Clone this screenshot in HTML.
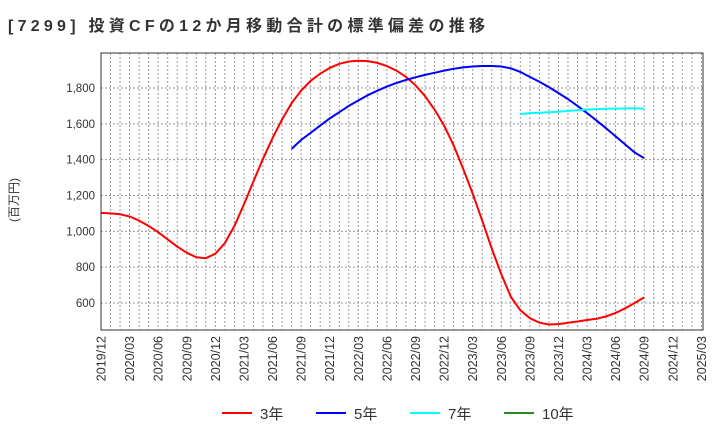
<!DOCTYPE html>
<html><head><meta charset="utf-8"><style>
body{margin:0;background:#fff;font-family:"Liberation Sans","Noto Sans CJK JP",sans-serif}
</style></head><body>
<svg id="c" width="720" height="440" xmlns="http://www.w3.org/2000/svg" style="font-family:'Liberation Sans','Noto Sans CJK JP',sans-serif">
<text x="8" y="31" font-size="16" font-weight="bold" fill="#333" textLength="477" lengthAdjust="spacing">[7299]  投資CFの12か月移動合計の標準偏差の推移</text>
<text transform="translate(18,200) rotate(-90)" font-size="12" fill="#333" text-anchor="middle">(百万円)</text>
<g id="grid"></g><g id="series"></g><g id="axes"></g>
<g id="legend"></g>
</svg>
<script>
const yTicks=[600,800,1000,1200,1400,1600,1800];
const xLabels=["2019/12","2020/03","2020/06","2020/09","2020/12","2021/03","2021/06","2021/09","2021/12","2022/03","2022/06","2022/09","2022/12","2023/03","2023/06","2023/09","2023/12","2024/03","2024/06","2024/09","2024/12","2025/03"];
const red=[1103,1100,1095,1083,1060,1030,995,955,915,880,855,850,875,935,1030,1150,1280,1405,1520,1625,1715,1785,1840,1880,1912,1935,1948,1952,1950,1940,1922,1897,1862,1815,1755,1680,1590,1480,1350,1210,1060,905,760,635,560,515,490,480,482,490,497,505,512,525,545,570,600,632];
const blue=[1460,1510,1550,1590,1630,1665,1700,1730,1760,1785,1808,1828,1845,1860,1873,1885,1897,1907,1915,1920,1923,1923,1920,1910,1890,1862,1835,1805,1772,1738,1700,1660,1618,1575,1530,1485,1440,1408];
const blueStart=20;
const cyan=[1655,1660,1662,1665,1668,1672,1676,1680,1682,1684,1685,1686,1686,1685];
const cyanStart=44;
const NS="http://www.w3.org/2000/svg";
const L=101,R=703,T=53,B=330,ppm=9.53;
const x=i=>L+i*ppm;
const y=v=>303-(v-600)*215/1200;
function mk(tag,attrs,parent){const e=document.createElementNS(NS,tag);for(const k in attrs)e.setAttribute(k,attrs[k]);document.getElementById(parent).appendChild(e);return e;}
for(let i=1;x(i)<R;i++){const g=mk('line',{x1:x(i),x2:x(i),y1:T,y2:B,stroke:'#999','stroke-dasharray':'2,2','stroke-width':1},'grid');

}
yTicks.forEach(v=>{const g=mk('line',{x1:L,x2:R,y1:y(v),y2:y(v),stroke:'#999','stroke-dasharray':'2,2'},'grid');


const t=mk('text',{x:L-6,y:y(v)+4,'text-anchor':'end','font-size':11.5,fill:'#333'},'axes');t.textContent=v.toLocaleString('en-US');

});
xLabels.forEach((s,k)=>{const xx=x(k*3);const t=mk('text',{transform:`translate(${xx+4.5},${B+6}) rotate(-90)`,'text-anchor':'end','font-size':12.5,fill:'#333'},'axes');t.textContent=s;

});
const fr=mk('rect',{x:L,y:T,width:R-L,height:B-T,fill:'none',stroke:'#333','stroke-width':1},'axes');


function line(arr,start,color,name){const p=arr.map((v,i)=>x(start+i).toFixed(1)+','+y(v).toFixed(1)).join(' ');
const e=mk('polyline',{points:p,fill:'none',stroke:color,'stroke-width':2},'series');

}
line(red,0,'#f00','series-3y');line(blue,blueStart,'#00f','series-5y');line(cyan,cyanStart,'#0ff','series-7y');
const leg=[["3年","#f00",222],["5年","#00f",316],["7年","#0ff",410],["10年","#228b22",504]];
leg.forEach(([s,c,lx])=>{const l=mk('line',{x1:lx,x2:lx+30,y1:413,y2:413,stroke:c,'stroke-width':2},'legend');


const t=mk('text',{x:lx+38,y:419,'font-size':15,fill:'#333'},'legend');t.textContent=s;

});
</script>
</body></html>
